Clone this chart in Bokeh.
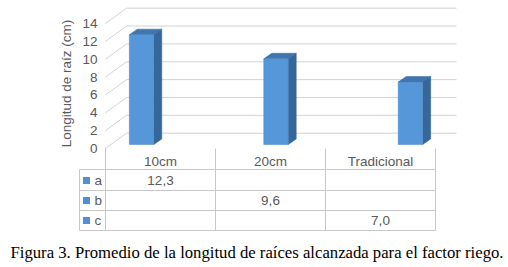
from bokeh.plotting import figure
from bokeh.models import Range1d
from bokeh.core.properties import value
from bokeh.embed import file_html
from bokeh.resources import INLINE

# ---- data ----
categories = ["10cm", "20cm", "Tradicional"]
series = ["a", "b", "c"]
series_values = {
    "a": [12.3, None, None],
    "b": [None, 9.6, None],
    "c": [None, None, 7.0],
}
value_labels = {
    "a": ["12,3", "", ""],
    "b": ["", "9,6", ""],
    "c": ["", "", "7,0"],
}
y_ticks = [0, 2, 4, 6, 8, 10, 12, 14]
y_title = "Longitud de raíz (cm)"
caption = "Figura 3. Promedio de la longitud de raíces alcanzada para el factor riego."

# ---- layout (pixels) ----
W, H = 508, 267
PX = 8.93          # pixels per unit on the front plane
Y0 = 148           # pixel row of value 0 on the front plane
def py(px):        # pixel row -> value units
    return (Y0 - px) / PX

FRONT_L = 105
CAT_W = 110
WALL_DX, WALL_DY = 21, 15.3     # depth of the 3D box
BAR_DX, BAR_DY = 5.5, 4.0       # plane of the bars' front faces
SIDE_DX, SIDE_DY = 8, 5.5       # bar depth
BAR_W = CAT_W / 4.5
GRID = "#d3d3d3"
TXT = "#595959"
FONT = value("Liberation Sans")

p = figure(width=W, height=H, output_backend="svg", toolbar_location=None,
           x_range=Range1d(0, W), y_range=Range1d(py(H), py(0)),
           min_border=0, outline_line_color=None)
p.axis.visible = False
p.grid.visible = False
p.background_fill_color = "white"

n = len(categories)
front_r = FRONT_L + n * CAT_W

# walls: back gridlines and left-wall diagonals
bx0 = [FRONT_L + WALL_DX] * len(y_ticks)
bx1 = [front_r + WALL_DX] * len(y_ticks)
by = [t + WALL_DY / PX for t in y_ticks]
p.segment(x0=bx0, y0=by, x1=bx1, y1=by, line_color=GRID, line_width=1)
p.segment(x0=[FRONT_L] * len(y_ticks), y0=y_ticks, x1=bx0, y1=by,
          line_color=GRID, line_width=1)

# bars
fl, fr, fb, ft = [], [], [], []
side_xs, side_ys, top_xs, top_ys = [], [], [], []
for j, s in enumerate(series):
    for i, v in enumerate(series_values[s]):
        if v is None:
            continue
        left = FRONT_L + i * CAT_W + 0.75 * BAR_W + j * BAR_W + BAR_DX
        right = left + BAR_W
        bottom = BAR_DY / PX
        top = v + BAR_DY / PX
        fl.append(left); fr.append(right); fb.append(bottom); ft.append(top)
        d = SIDE_DY / PX
        side_xs.append([right, right + SIDE_DX, right + SIDE_DX, right])
        side_ys.append([bottom, bottom + d, top + d, top])
        top_xs.append([left, right, right + SIDE_DX, left + SIDE_DX])
        top_ys.append([top, top, top + d, top + d])

p.patches(side_xs, side_ys, fill_color="#35679b", line_color="#2f5f90", line_width=0.5)
p.patches(top_xs, top_ys, fill_color="#3f76b0", line_color="#34679c", line_width=0.5)
p.quad(left=fl, right=fr, bottom=fb, top=ft, fill_color="#5597d9",
       line_color="#4a86c2", line_width=0.5)

# y tick labels
p.text(x=[97] * len(y_ticks), y=y_ticks, text=[str(t) for t in y_ticks],
       text_align="right", text_baseline="middle", text_color=TXT,
       text_font=FONT, text_font_size="13.5px")

# y title
p.text(x=[66], y=[py(83)], text=[y_title], angle=1.5708,
       text_align="center", text_baseline="middle", text_color=TXT,
       text_font=FONT, text_font_size="13.5px")

# data table
LEG_L = 79
rows_px = [148, 169, 190, 210, 230]
row_y = [py(r) for r in rows_px]
# horizontal lines (below header)
p.segment(x0=[LEG_L] * 4, y0=row_y[1:], x1=[front_r] * 4, y1=row_y[1:],
          line_color="#c8c8c8", line_width=1)
# vertical lines
vx = [FRONT_L + k * CAT_W for k in range(n + 1)]
p.segment(x0=vx, y0=[row_y[0]] * len(vx), x1=vx, y1=[row_y[-1]] * len(vx),
          line_color="#c8c8c8", line_width=1)
p.segment(x0=[LEG_L], y0=[row_y[1]], x1=[LEG_L], y1=[row_y[-1]],
          line_color="#c8c8c8", line_width=1)

centers = [FRONT_L + (i + 0.5) * CAT_W for i in range(n)]
p.text(x=centers, y=[py(161)] * n, text=categories, text_align="center",
       text_baseline="middle", text_color=TXT, text_font=FONT,
       text_font_size="13.5px")

ry = [py(180), py(200), py(220)]
p.scatter(x=[86] * len(series), y=ry, marker="square", size=7,
          fill_color="#4f8fd6", line_color=None)
p.text(x=[94] * len(series), y=ry, text=series, text_align="left",
       text_baseline="middle", text_color=TXT, text_font=FONT,
       text_font_size="13.5px")
for j, s in enumerate(series):
    p.text(x=centers, y=[ry[j]] * n, text=value_labels[s], text_align="center",
           text_baseline="middle", text_color=TXT, text_font=FONT,
           text_font_size="13.5px")

# caption
p.text(x=[256.5], y=[py(252)], text=[caption], text_align="center",
       text_baseline="middle", text_color="black",
       text_font=value("Liberation Serif"), text_font_size="16.7px")

open("out.html", "w").write(file_html(p, INLINE))
